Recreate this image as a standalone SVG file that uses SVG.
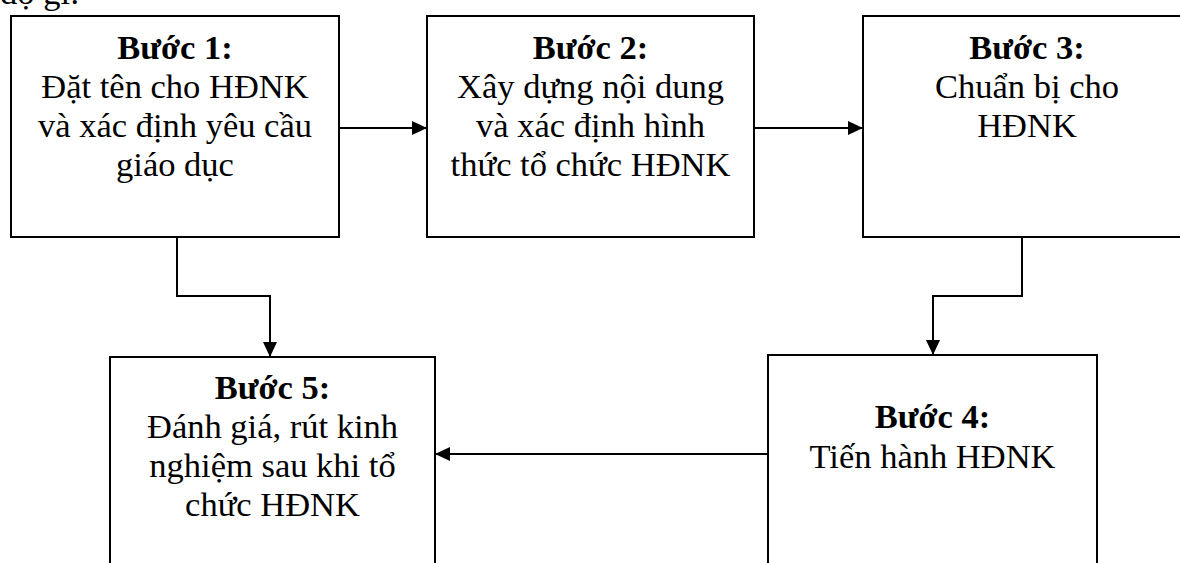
<svg xmlns="http://www.w3.org/2000/svg" width="1180" height="563" viewBox="0 0 1180 563">
<style>
.box{fill:#fff;stroke:#000;stroke-width:2}
.t{font-family:"Liberation Serif","Times New Roman",serif;font-size:34.5px;fill:#000;text-anchor:middle}
.b{font-weight:bold}
.c{fill:none;stroke:#000;stroke-width:2}
</style>
<defs>
<marker id="ah" markerUnits="userSpaceOnUse" markerWidth="15" markerHeight="14" refX="15" refY="7" orient="auto">
<path d="M0,0 L15,7 L0,14 z" fill="#000"/>
</marker>
</defs>
<rect width="1180" height="563" fill="#fff"/>
<text class="t" x="0" y="4" style="text-anchor:start">độ gì:</text>
<g id="connectors">
<path class="c" d="M339,128 H427" marker-end="url(#ah)"/>
<path class="c" d="M754,128 H863" marker-end="url(#ah)"/>
<path class="c" d="M177,237 V296 H270 V357" marker-end="url(#ah)"/>
<path class="c" d="M1022,237 V296 H933 V355" marker-end="url(#ah)"/>
<path class="c" d="M768,454 H435" marker-end="url(#ah)"/>
</g>
<g id="step1">
<rect class="box" x="11" y="16" width="328" height="221"/>
<text class="t b" x="175" y="59">Bước 1:</text>
<text class="t" x="175" y="98">Đặt tên cho HĐNK</text>
<text class="t" x="175" y="137">và xác định yêu cầu</text>
<text class="t" x="175" y="176">giáo dục</text>
</g>
<g id="step2">
<rect class="box" x="427" y="16" width="327" height="221"/>
<text class="t b" x="590.5" y="59">Bước 2:</text>
<text class="t" x="590.5" y="98">Xây dựng nội dung</text>
<text class="t" x="590.5" y="137">và xác định hình</text>
<text class="t" x="590.5" y="176">thức tổ chức HĐNK</text>
</g>
<g id="step3">
<rect class="box" x="863" y="16" width="328" height="221"/>
<text class="t b" x="1027" y="59">Bước 3:</text>
<text class="t" x="1027" y="98">Chuẩn bị cho</text>
<text class="t" x="1027" y="137">HĐNK</text>
</g>
<g id="step4">
<rect class="box" x="768" y="355" width="329" height="260"/>
<text class="t b" x="932.5" y="428">Bước 4:</text>
<text class="t" x="932.5" y="468">Tiến hành HĐNK</text>
</g>
<g id="step5">
<rect class="box" x="110" y="357" width="325" height="260"/>
<text class="t b" x="272.5" y="399">Bước 5:</text>
<text class="t" x="272.5" y="438">Đánh giá, rút kinh</text>
<text class="t" x="272.5" y="477">nghiệm sau khi tổ</text>
<text class="t" x="272.5" y="516">chức HĐNK</text>
</g>
</svg>
